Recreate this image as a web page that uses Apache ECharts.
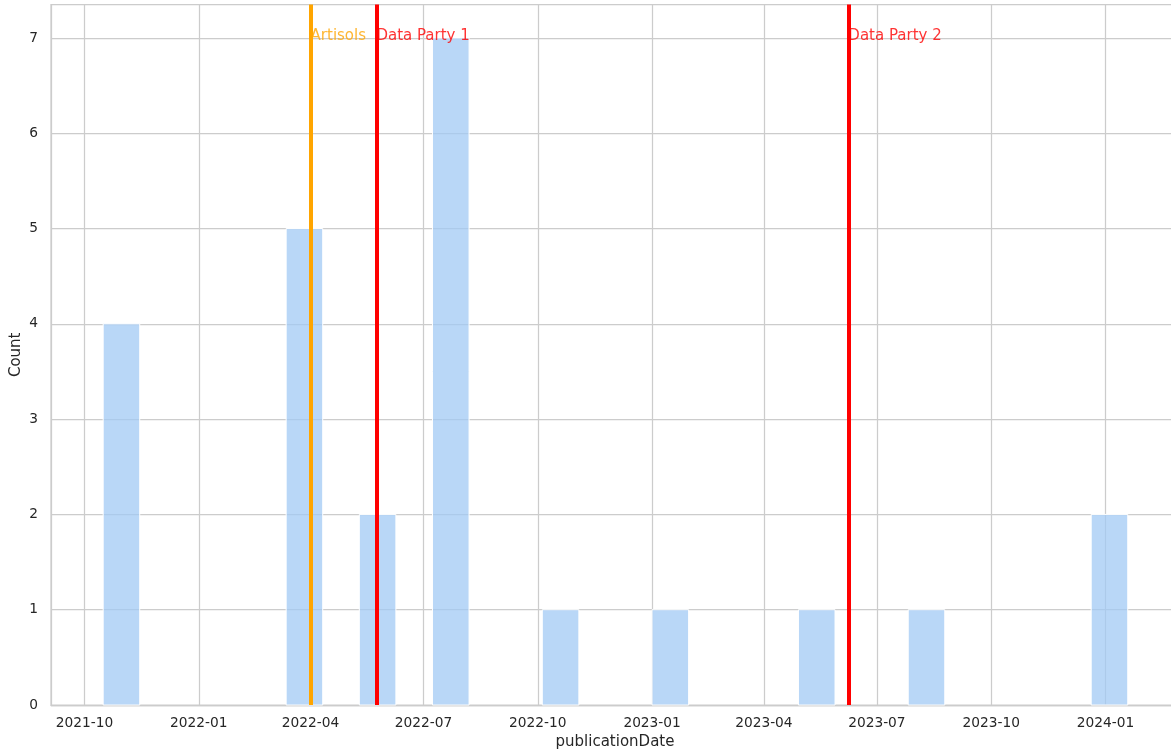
<!DOCTYPE html>
<html>
<head>
<meta charset="utf-8">
<script src="https://cdn.jsdelivr.net/npm/echarts@6/dist/echarts.min.js"></script>
<style>
html,body{margin:0;padding:0;background:#fff;}
#chart{width:1171px;height:752px;}
</style>
</head>
<body>
<div id="chart"></div>
<script>
// ---- data ----
const binStarts = ['2021-10-16 00:00','2022-03-12 08:00','2022-05-10 06:00','2022-07-08 04:00','2022-10-04 14:00','2022-12-31 23:00','2023-04-28 20:00','2023-07-26 05:00','2023-12-20 13:00'];
const binEnds   = ['2021-11-14 11:00','2022-04-10 19:00','2022-06-08 17:00','2022-08-06 15:00','2022-11-03 01:00','2023-01-30 10:00','2023-05-28 07:00','2023-08-24 16:00','2024-01-19 00:00'];
const counts    = [4, 5, 2, 7, 1, 1, 1, 1, 2];

const eventNames = ['Artisols', 'Data Party 1', 'Data Party 2'];
const eventDates = ['2022-04-01', '2022-05-24', '2023-06-08'];
const eventLabelLevel = 7;

const tickLabels = ['2021-10','2022-01','2022-04','2022-07','2022-10','2023-01','2023-04','2023-07','2023-10','2024-01'];
const yTicks = [0, 1, 2, 3, 4, 5, 6, 7];

// ---- styles ----
const eventColors = {'Artisols': '#ffa500', 'Data Party 1': '#ff0000', 'Data Party 2': '#ff0000'};
const FONT = 'DejaVu Sans';
const TXT = '#262626';
const GRIDC = '#cccccc';

const P = s => echarts.number.parseDate(s).getTime();
const histData = binStarts.map((s, i) => [P(s), P(binEnds[i]), counts[i]]);
const tickValues = tickLabels.map(l => P(l + '-01'));

const chart = echarts.init(document.getElementById('chart'), null, {renderer: 'canvas'});
chart.setOption({
  animation: false,
  backgroundColor: '#ffffff',
  grid: {left: 51, top: 4.6, width: 1128, bottom: 47, show: true, borderColor: GRIDC, borderWidth: 1.25,
    containLabel: false, outerBoundsMode: 'none'},
  xAxis: {
    type: 'value',
    scale: true,
    min: P('2021-09-04 00:00'),
    max: P('2024-02-29 06:00'),
    name: 'publicationDate',
    nameLocation: 'middle',
    nameGap: 30,
    nameMoveOverlap: false,
    nameTextStyle: {fontFamily: FONT, fontSize: 15, color: TXT},
    axisLine: {show: true, lineStyle: {color: GRIDC, width: 1.25}},
    axisTick: {show: false, customValues: tickValues},
    axisLabel: {
      customValues: tickValues,
      showMinLabel: true, showMaxLabel: true,
      fontFamily: FONT, fontSize: 13.75, color: TXT, margin: 11,
      formatter: v => { const i = tickValues.indexOf(v); return i >= 0 ? tickLabels[i] : ''; }
    },
    splitLine: {show: true, lineStyle: {color: GRIDC, width: 1.25}}
  },
  yAxis: {
    type: 'value',
    min: 0, max: 7.35, interval: 1,
    name: 'Count',
    nameLocation: 'middle',
    nameGap: 27,
    nameMoveOverlap: false,
    nameTextStyle: {fontFamily: FONT, fontSize: 15, color: TXT},
    axisLine: {show: true, lineStyle: {color: GRIDC, width: 1.25}},
    axisTick: {show: false, customValues: yTicks},
    axisLabel: {fontFamily: FONT, fontSize: 13.75, color: TXT, margin: 13,
      customValues: yTicks},
    splitLine: {show: true, lineStyle: {color: GRIDC, width: 1.25}}
  },
  series: [
    {
      type: 'custom',
      data: histData,
      encode: {x: [0, 1], y: 2},
      renderItem: (params, api) => {
        const s = api.coord([api.value(0), api.value(2)]);
        const e = api.coord([api.value(1), 0]);
        return {
          type: 'rect',
          shape: {x: s[0], y: s[1], width: e[0] - s[0], height: e[1] - s[1]},
          style: {fill: 'rgba(161,201,244,0.75)', stroke: '#ffffff', lineWidth: 1}
        };
      },
      silent: true,
      z: 2
    },
    {
      type: 'scatter',
      data: eventNames.map((n, i) => ({name: n, value: [P(eventDates[i]), eventLabelLevel],
        label: {color: eventColors[n]}})),
      symbolSize: 0,
      silent: true,
      z: 4,
      label: {
        show: true, position: 'right', distance: 0, offset: [0, -2],
        formatter: p => p.name, fontFamily: FONT, fontSize: 15
      },
      markLine: {
        silent: true,
        symbol: 'none',
        animation: false,
        label: {show: false},
        data: eventNames.map((n, i) => ({xAxis: P(eventDates[i]), lineStyle: {color: eventColors[n], width: 4, type: 'solid'}}))
      }
    }
  ]
});
</script>
</body>
</html>
